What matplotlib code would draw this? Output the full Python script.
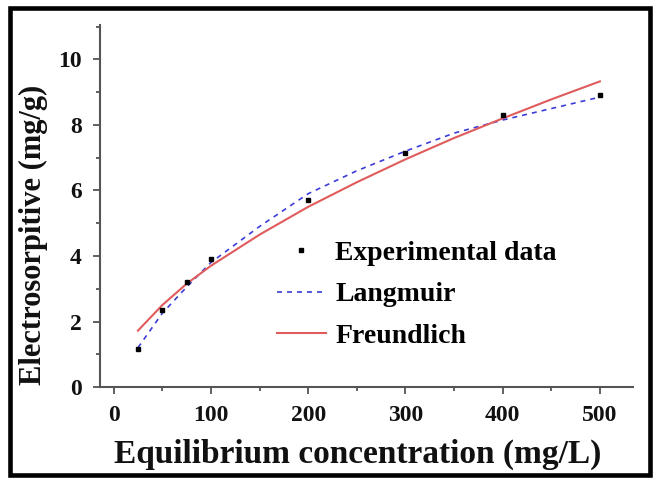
import matplotlib
matplotlib.use("Agg")
import matplotlib.pyplot as plt
from matplotlib.patches import Rectangle
from matplotlib.ticker import MultipleLocator

# Experimental data
conc = [25, 50, 75, 100, 200, 300, 400, 500]
q_exp = [1.17, 2.35, 3.2, 3.9, 5.7, 7.15, 8.3, 8.9]

# Model curves
curve_x = [25, 50, 75, 100, 150, 200, 250, 300, 350, 400, 450, 500]
langmuir = [1.2, 2.25, 3.05, 3.8, 4.9, 5.9, 6.6, 7.2, 7.75, 8.15, 8.5, 8.85]
freundlich = [1.72, 2.5, 3.15, 3.7, 4.65, 5.5, 6.25, 6.95, 7.6, 8.2, 8.78, 9.33]

xticks = [0, 100, 200, 300, 400, 500]
yticks = [0, 2, 4, 6, 8, 10]

plt.rcParams['font.family'] = ['Liberation Serif', 'DejaVu Serif']
plt.rcParams['font.weight'] = 'bold'

fig = plt.figure(figsize=(6.61, 4.87), dpi=100)
ax = fig.add_axes([0.1513, 0.2053, 0.8063, 0.7433])

ax.plot(curve_x, langmuir, linestyle=(0, (3, 3)), color='#3c3cd8', lw=1.2, label='Langmuir')
ax.plot(curve_x, freundlich, color='#e05c5c', lw=1.5, label='Freundlich')
ax.plot(conc, q_exp, linestyle='none', marker='s', ms=3.2, color='black', label='Experimental data')

ax.set_xlim(-14, 534)
ax.set_ylim(0, 11.05)
ax.set_xticks(xticks)
ax.set_yticks(yticks)
ax.xaxis.set_minor_locator(MultipleLocator(50))
ax.yaxis.set_minor_locator(MultipleLocator(1))
for s in ['top', 'right']:
    ax.spines[s].set_visible(False)
for s in ['left', 'bottom']:
    ax.spines[s].set_color('#555555')
    ax.spines[s].set_linewidth(1.5)
ax.tick_params(which='both', direction='out', color='#555555', width=1.3, labelcolor='#111111')
ax.tick_params(which='major', length=5, labelsize=17, pad=8)
ax.tick_params(which='minor', length=3)
for lab in ax.get_xticklabels() + ax.get_yticklabels():
    lab.set_fontweight('bold')

ax.set_xlabel('Equilibrium concentration (mg/L)', fontsize=24, fontweight='bold', color='#111111')
ax.set_ylabel('Electrosorpitive (mg/g)', fontsize=22, fontweight='bold', color='#111111')
ax.xaxis.set_label_coords(0.484, -0.142)
ax.yaxis.set_label_coords(-0.097, 0.42)

handles, labels = ax.get_legend_handles_labels()
order = [2, 0, 1]
leg = ax.legend([handles[i] for i in order], [labels[i] for i in order],
                loc='center left', bbox_to_anchor=(0.332, 0.255), frameon=False,
                handlelength=1.75, labelspacing=0.58, handletextpad=0.35,
                borderpad=0, borderaxespad=0,
                prop={'weight': 'bold', 'size': 20})

frame = Rectangle((0.0144, 0.0246), 0.969, 0.959, transform=fig.transFigure,
                  fill=False, edgecolor='black', lw=3.3)
fig.patches.append(frame)

fig.savefig('out.png', dpi=100)
